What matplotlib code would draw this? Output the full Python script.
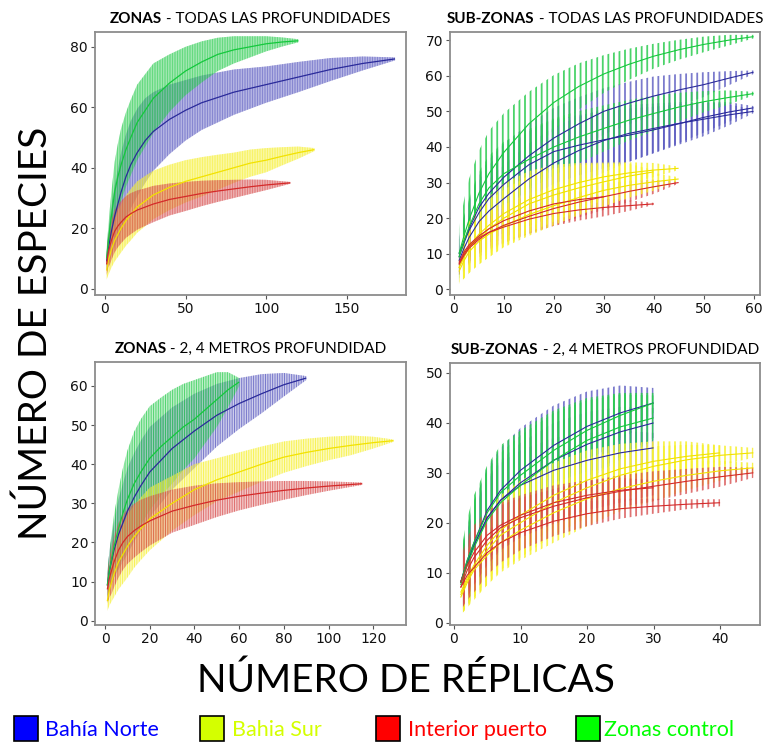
import numpy as np
import matplotlib
matplotlib.use('Agg')
import matplotlib.pyplot as plt
from matplotlib import font_manager
from matplotlib.colors import to_rgba
from matplotlib.patches import Rectangle

W, H = 765, 742

# ---------------- ZONAS - todas las profundidades ----------------
zt_x_norte = [1, 2, 3, 4, 6, 8, 10, 13, 16, 20, 25, 30, 40, 50, 60, 80, 100, 120, 140, 160, 180]
zt_m_norte = [9, 13, 16, 19, 24, 28, 32, 37, 41, 45, 49, 52, 56, 59, 61.5, 65, 67.5, 70, 72.5, 74.5, 76]
zt_sd_norte = [3, 5, 6.5, 8, 10, 11.5, 13, 14, 14.5, 14.5, 14, 13, 11.5, 10, 9, 7.5, 6, 5, 3.8, 2.3, 0.5]

zt_x_sur = [1, 2, 3, 4, 6, 8, 10, 13, 16, 20, 25, 30, 40, 50, 60, 70, 80, 90, 100, 110, 120, 130]
zt_m_sur = [6, 9, 11, 13, 16, 18, 20, 22.5, 24.5, 27, 29, 31, 33.5, 35.5, 37, 38.5, 40, 41.5, 42.5, 43.8, 45, 46]
zt_sd_sur = [3, 4.5, 5.3, 6, 7, 7.5, 8, 8.3, 8.5, 8.5, 8.3, 8, 7.5, 7, 6.5, 5.8, 5, 4.5, 4, 3, 2, 0.5]

zt_x_puerto = [1, 2, 3, 4, 6, 8, 10, 13, 16, 20, 25, 30, 40, 50, 60, 70, 80, 90, 100, 115]
zt_m_puerto = [8, 12, 14, 16, 19, 20.7, 22, 23.7, 24.8, 26, 27, 28, 29.5, 30.5, 31.5, 32.3, 33, 33.7, 34.3, 35]
zt_sd_puerto = [3.5, 5, 6, 6.5, 7, 7, 7, 6.9, 6.8, 6.5, 6.2, 6, 5.3, 4.8, 4.2, 3.6, 3, 2.4, 1.7, 0.3]

zt_x_control = [1, 2, 3, 4, 6, 8, 10, 13, 16, 20, 25, 30, 40, 50, 60, 70, 80, 90, 100, 110, 120]
zt_m_control = [10, 15, 20, 24, 32, 37, 41, 46, 50, 55, 59, 63, 68, 72, 75, 77.5, 79, 80, 81, 81.6, 82]
zt_sd_control = [3, 5, 6.5, 8, 10, 11, 12, 12.3, 12.5, 12.5, 12, 11.5, 9.5, 8, 6.8, 5.5, 4.5, 3.5, 2.5, 1.5, 0.5]

# ---------------- ZONAS - 2, 4 metros ----------------
z24_x_norte = [1, 2, 3, 4, 6, 8, 10, 13, 16, 20, 25, 30, 40, 50, 60, 70, 80, 90]
z24_m_norte = [9, 13, 15.5, 18, 22, 25, 28, 31.5, 34.5, 38, 41, 44, 48.5, 52.5, 55.5, 58, 60.3, 62]
z24_sd_norte = [3, 5, 6, 7, 9, 10, 11, 11.3, 11.5, 11.5, 11, 10.5, 9.5, 8, 6.5, 5, 3, 0.5]

z24_x_sur = [1, 2, 3, 4, 6, 8, 10, 13, 16, 20, 30, 40, 50, 60, 70, 80, 90, 100, 110, 120, 129]
z24_m_sur = [5, 8, 10, 12, 15, 17, 19, 21.5, 23.5, 26, 30, 33.5, 36, 38, 40, 41.8, 43, 44, 44.8, 45.5, 46]
z24_sd_sur = [2.5, 4, 5, 6, 7, 7.5, 8, 8, 8, 8, 7, 6.5, 5.5, 5, 4.5, 4, 3.5, 3, 2.5, 1.5, 0.3]

z24_x_puerto = [1, 2, 3, 4, 6, 8, 10, 13, 16, 20, 30, 40, 50, 60, 70, 80, 90, 100, 115]
z24_m_puerto = [8, 11, 13, 15, 18, 20, 21.5, 23, 24.2, 25.5, 28, 29.5, 30.8, 31.8, 32.6, 33.3, 33.9, 34.4, 35]
z24_sd_puerto = [3.5, 5, 6, 6.5, 7, 7, 7, 6.9, 6.7, 6.3, 5.5, 5, 4.3, 3.6, 3, 2.4, 1.8, 1.2, 0.3]

z24_x_control = [1, 2, 3, 4, 6, 8, 10, 13, 16, 20, 25, 30, 35, 40, 45, 50, 55, 60]
z24_m_control = [9, 13, 16, 19, 23.5, 27.5, 31, 35, 38, 41.5, 44.5, 47, 49.5, 51.5, 54, 56.5, 59, 61]
z24_sd_control = [3, 5, 6.5, 8, 10, 11.5, 12.5, 13.3, 13.5, 13.3, 12.5, 12, 11, 10, 8.5, 7, 4.5, 1]

# ---------------- SUB-ZONAS - todas las profundidades ----------------
sx = [1, 2, 3, 5, 7, 10, 15, 20, 25, 30, 35, 40, 45, 50, 55, 60]

st_m_norte = [
    [10, 13.5, 17, 23, 27, 31.5, 37.5, 42.5, 46.5, 50, 52.3, 54.3, 56, 57.5, 59.3, 61],
    [9, 13, 16.5, 21.5, 25.5, 29.5, 35, 38.7, 40.5, 42, 43.3, 44.8, 46.5, 48.3, 49.8, 51],
    [8, 11.5, 14.5, 19, 22, 25.5, 31, 35.5, 39, 41.8, 43.8, 45.2, 46.6, 47.8, 49, 50],
]
st_sd_norte = [
    [5, 7, 8, 9, 9.5, 9.5, 9, 8.5, 7.5, 6.5, 6, 5.5, 4.5, 3.5, 2, 0.5],
    [5, 7, 8, 9, 9.5, 9.5, 9.5, 9, 8.5, 8, 7.5, 6.5, 5.5, 4.3, 2.8, 0.5],
    [4, 6, 7, 8.5, 9, 9.5, 10, 10, 9.5, 9, 8, 7, 6, 4.8, 3, 0.5],
]
st_m_control = [
    [10, 15, 19.5, 27, 32.5, 38.5, 46.5, 52.5, 57, 60.5, 63.2, 65.5, 67.3, 68.8, 70, 71],
    [9, 13.5, 17.5, 24, 28.5, 32.5, 36.5, 40, 42.8, 45.2, 47.5, 49.4, 51.2, 52.7, 53.9, 55],
]
st_sd_control = [
    [7, 10, 11.5, 12, 12, 11, 9, 7.7, 6.5, 5.3, 4.4, 3.5, 2.8, 2.2, 1.5, 0.5],
    [5, 7, 8, 9, 9, 9, 8.5, 8, 7.3, 6.5, 5.7, 5, 4, 3, 2, 0.5],
]
st_m_sur = [
    [6, 9.5, 12, 15.5, 18, 21.3, 25.2, 28, 30, 31.6, 32.7, 33.5, 34],
    [6, 9, 11.5, 14.5, 17, 20, 24, 26.5, 28.5, 30.2, 31.8, 33],
    [5, 8, 10.5, 13.5, 15.5, 17.8, 21, 23.5, 25.8, 27.8, 29.2, 30.2, 31],
]
st_sd_sur = [
    [4, 6, 7, 7.5, 8, 8.5, 8, 7, 5.5, 4, 3, 2, 0.5],
    [4, 6, 7, 7.5, 8, 8, 8, 7.5, 6.5, 5, 3.5, 0.5],
    [3.5, 5, 6, 6.5, 6.5, 6, 6, 5.5, 5, 4.5, 3.5, 2.5, 0.5],
]
st_m_puerto = [
    [7, 9.5, 11.5, 14, 16, 18, 20.5, 22.7, 24.5, 26, 27.5, 28.8, 30],
    [7.5, 10.5, 12.5, 15, 17, 19.3, 22, 24, 25.2, 26],
    [7, 10, 12, 14.5, 16, 17.5, 19.7, 21.3, 22.3, 23, 23.5, 24],
]
st_sd_puerto = [
    [3, 4, 4.5, 5, 5, 5, 5, 4.8, 4.3, 3.7, 3, 2, 0.3],
    [3, 4, 4.5, 5, 5, 4.8, 4.3, 3.5, 2.3, 0.3],
    [3, 4, 4.5, 4.5, 4.5, 4.3, 4, 3.5, 3, 2.5, 1.5, 0.3],
]

# ---------------- SUB-ZONAS - 2, 4 metros ----------------
s24_m_norte = [
    [8, 12.5, 16, 22.5, 26.5, 30.5, 35.5, 39.3, 42, 44],
    [8, 12, 15.5, 21, 24.5, 28, 32.5, 35.7, 38.2, 40],
    [8, 12, 15.5, 21, 24.5, 27.5, 30.5, 32.5, 34, 35],
]
s24_sd_norte = [
    [5, 7, 8, 8.5, 8.5, 8.5, 8, 7, 5.5, 3],
    [5, 6.5, 7.5, 8, 8, 8, 7.5, 6.5, 5, 3],
    [5, 6.5, 7, 7.5, 7.5, 7, 6.5, 5.5, 4.5, 3],
]
s24_m_control = [
    [7.5, 11.5, 15, 20.5, 24, 27.5, 32.5, 36.5, 39.2, 41],
    [8, 12.5, 16, 22, 26, 29.5, 34.5, 38.5, 41.5, 44],
]
s24_sd_control = [
    [6, 8, 9.5, 10, 10, 10, 9.5, 8, 6.5, 4.5],
    [6, 8.5, 9.5, 9.5, 9.5, 9, 8, 6.5, 4.5, 2],
]
s24_m_sur = [
    [6, 9, 11.5, 15.5, 18.5, 21.5, 25.5, 28.5, 30.8, 32.3, 33.3, 34],
    [5.5, 8.5, 11, 14.5, 17.5, 20, 24, 27, 29.5, 31.3, 32.6, 33.5, 34],
    [5, 8, 10.5, 13.5, 16, 18.5, 22, 24.8, 26.8, 28.3, 29.5, 30.4, 31],
]
s24_sd_sur = [
    [4, 5.5, 6.5, 7, 7, 7, 6.5, 6, 5, 4, 3, 1.5],
    [4, 5.5, 6.5, 7, 7, 7, 6.5, 6, 5, 4, 3, 2, 1],
    [3.5, 5, 5.5, 6, 6, 6, 6, 5.5, 4.5, 4, 3, 2, 1],
]
s24_m_puerto = [
    [7, 10.5, 13, 16.5, 19, 21, 23.3, 25, 26.3, 27.3, 28.3, 29.2, 30],
    [8, 11.5, 14, 17.5, 19.5, 21.5, 24, 25.5, 26.5, 27],
    [7, 9.5, 11, 14, 16, 18, 20.3, 21.8, 22.8, 23.3, 23.7, 24],
]
s24_sd_puerto = [
    [5, 5.5, 5.5, 5, 4.5, 4, 3.5, 3.3, 3.2, 3, 2.5, 2, 1],
    [5, 5.5, 5.5, 5, 4.5, 4, 3.5, 3, 2.5, 1.5],
    [4.5, 5, 5, 4.5, 4, 3.5, 3, 2.5, 2, 1.5, 1, 0.7],
]

legend_labels = ['Bahía Norte', 'Bahia Sur', 'Interior puerto', 'Zonas control']
legend_colors = ['#0000ff', '#d4ff00', '#ff0000', '#00ff00']

# colours for bars / mean lines
bar_col = {'norte': '#5a5ac0', 'sur': '#f6f030', 'puerto': '#d85050', 'control': '#2ccc50'}
line_col = {'norte': '#2a2a9a', 'sur': '#f2e200', 'puerto': '#d42a2a', 'control': '#14c83c'}

plt.rcParams['font.family'] = 'DejaVu Sans'
plt.rcParams['hatch.linewidth'] = 1.0

# the big axis titles are in a narrow font in the original
installed = {f.name for f in font_manager.fontManager.ttflist}
if 'Liberation Sans Narrow' in installed:
    big_font, big_size = 'Liberation Sans Narrow', 33
else:
    big_font, big_size = 'Lato', 28

fig = plt.figure(figsize=(W / 100, H / 100), dpi=100)


def make_ax(l, t, r, b):
    ax = fig.add_axes([l / W, 1 - b / H, (r - l) / W, (b - t) / H])
    for s in ax.spines.values():
        s.set_color('#8c8c8c')
        s.set_linewidth(1.3)
    ax.tick_params(direction='out', length=3, width=0.8, color='#555555',
                   labelsize=10, labelcolor='#111111', pad=2)
    return ax


def band(ax, x, m, sd, key, hatch, hlw, face_a, hatch_a):
    m = np.array(m, float)
    sd = np.array(sd, float)
    pc = ax.fill_between(x, m - sd, m + sd, facecolor=to_rgba(bar_col[key], face_a),
                         edgecolor=to_rgba(bar_col[key], hatch_a), hatch=hatch, linewidth=0)
    if hasattr(pc, 'set_hatch_linewidth'):
        pc.set_hatch_linewidth(hlw)


def mean_line(ax, x, m, key, lw=0.9):
    ax.plot(x, m, color=line_col[key], lw=lw, solid_capstyle='butt')


# ---- panel A: zonas, todas ----
axA = make_ax(95, 32, 406, 295)
hA = '|' * 10
for key, x, m, sd in [('norte', zt_x_norte, zt_m_norte, zt_sd_norte),
                      ('control', zt_x_control, zt_m_control, zt_sd_control),
                      ('sur', zt_x_sur, zt_m_sur, zt_sd_sur),
                      ('puerto', zt_x_puerto, zt_m_puerto, zt_sd_puerto)]:
    band(axA, x, m, sd, key, hA, 0.55, 0.35, 0.75)
for key, x, m in [('norte', zt_x_norte, zt_m_norte), ('control', zt_x_control, zt_m_control),
                  ('sur', zt_x_sur, zt_m_sur), ('puerto', zt_x_puerto, zt_m_puerto)]:
    mean_line(axA, x, m, key)
axA.set_xlim(-6.2, 186.8)
axA.set_ylim(-2.1, 84.9)
axA.set_xticks([0, 50, 100, 150])
axA.set_yticks([0, 20, 40, 60, 80])

# ---- panel B: sub-zonas, todas ----
axB = make_ax(450, 32, 760, 295)
hB = '|||'
for m, sd in zip(st_m_norte, st_sd_norte):
    band(axB, sx[:len(m)], m, sd, 'norte', hB, 1.3, 0.0, 0.8)
for m, sd in zip(st_m_control, st_sd_control):
    band(axB, sx[:len(m)], m, sd, 'control', hB, 1.3, 0.0, 0.85)
for m, sd in zip(st_m_puerto, st_sd_puerto):
    band(axB, sx[:len(m)], m, sd, 'puerto', hB, 1.3, 0.0, 0.8)
for m, sd in zip(st_m_sur, st_sd_sur):
    band(axB, sx[:len(m)], m, sd, 'sur', hB, 1.3, 0.0, 0.85)
for key, ms in [('norte', st_m_norte), ('control', st_m_control),
                ('sur', st_m_sur), ('puerto', st_m_puerto)]:
    for m in ms:
        mean_line(axB, sx[:len(m)], m, key, lw=0.8)
axB.set_xlim(-0.8, 61.3)
axB.set_ylim(-1.6, 72.3)
axB.set_xticks(range(0, 61, 10))
axB.set_yticks(range(0, 71, 10))

# ---- panel C: zonas, 2-4 m ----
axC = make_ax(95, 362, 406, 625)
hC = '|' * 7
for key, x, m, sd in [('norte', z24_x_norte, z24_m_norte, z24_sd_norte),
                      ('control', z24_x_control, z24_m_control, z24_sd_control),
                      ('sur', z24_x_sur, z24_m_sur, z24_sd_sur),
                      ('puerto', z24_x_puerto, z24_m_puerto, z24_sd_puerto)]:
    band(axC, x, m, sd, key, hC, 0.7, 0.3, 0.75)
for key, x, m in [('norte', z24_x_norte, z24_m_norte), ('control', z24_x_control, z24_m_control),
                  ('sur', z24_x_sur, z24_m_sur), ('puerto', z24_x_puerto, z24_m_puerto)]:
    mean_line(axC, x, m, key)
axC.set_xlim(-4.5, 134.6)
axC.set_ylim(-1.1, 66.1)
axC.set_xticks(range(0, 121, 20))
axC.set_yticks(range(0, 61, 10))

# ---- panel D: sub-zonas, 2-4 m ----
axD = make_ax(450, 363, 760, 625)
hD = '|||'
for m, sd in zip(s24_m_norte, s24_sd_norte):
    band(axD, sx[:len(m)], m, sd, 'norte', hD, 1.3, 0.0, 0.8)
for m, sd in zip(s24_m_control, s24_sd_control):
    band(axD, sx[:len(m)], m, sd, 'control', hD, 1.3, 0.0, 0.85)
for m, sd in zip(s24_m_sur, s24_sd_sur):
    band(axD, sx[:len(m)], m, sd, 'sur', hD, 1.3, 0.0, 0.85)
for m, sd in zip(s24_m_puerto, s24_sd_puerto):
    band(axD, sx[:len(m)], m, sd, 'puerto', hD, 1.3, 0.0, 0.8)
for key, ms in [('norte', s24_m_norte), ('control', s24_m_control),
                ('sur', s24_m_sur), ('puerto', s24_m_puerto)]:
    for m in ms:
        mean_line(axD, sx[:len(m)], m, key, lw=0.8)
axD.set_xlim(-0.6, 46.0)
axD.set_ylim(-0.5, 52.0)
axD.set_xticks(range(0, 41, 10))
axD.set_yticks(range(0, 51, 10))

# ---- titles: bold part + normal part, centred over each axes ----
renderer = fig.canvas.get_renderer()
titles = [(axA, 'ZONAS', ' - TODAS LAS PROFUNDIDADES'),
          (axB, 'SUB-ZONAS', ' - TODAS LAS PROFUNDIDADES'),
          (axC, 'ZONAS', ' - 2, 4 METROS PROFUNDIDAD'),
          (axD, 'SUB-ZONAS', ' - 2, 4 METROS PROFUNDIDAD')]
for ax, bold, rest in titles:
    bb = ax.get_position()
    ytop = bb.y1 + 9 / H
    t1 = fig.text(0, ytop, bold, fontsize=11, fontweight='bold', family='Lato', va='baseline')
    t2 = fig.text(0, ytop, rest, fontsize=11, family='Lato', va='baseline')
    w1 = t1.get_window_extent(renderer).width
    w2 = t2.get_window_extent(renderer).width
    cx = (bb.x0 + bb.x1) / 2 * W
    x0 = cx - (w1 + w2) / 2
    t1.set_x(x0 / W)
    t2.set_x((x0 + w1) / W)

# ---- big axis labels ----
fig.text(36 / W, 1 - 333 / H, 'NÚMERO DE ESPECIES', rotation=90, family=big_font,
         fontsize=big_size, ha='center', va='center', color='black')
fig.text(406 / W, 1 - 681 / H, 'NÚMERO DE RÉPLICAS', family=big_font,
         fontsize=big_size, ha='center', va='center', color='black')

# ---- legend ----
sq_x = [14, 200, 376, 576]
txt_x = [45, 232, 408, 604]
for lab, col, sxp, tx in zip(legend_labels, legend_colors, sq_x, txt_x):
    fig.add_artist(Rectangle((sxp / W, 1 - 741 / H), 24 / W, 25 / H, transform=fig.transFigure,
                             facecolor=col, edgecolor='black', linewidth=1.2))
    fig.text(tx / W, 1 - 736 / H, lab, family='Lato', fontsize=15.5, color=col,
             ha='left', va='baseline')

fig.savefig('out.png', dpi=100)
